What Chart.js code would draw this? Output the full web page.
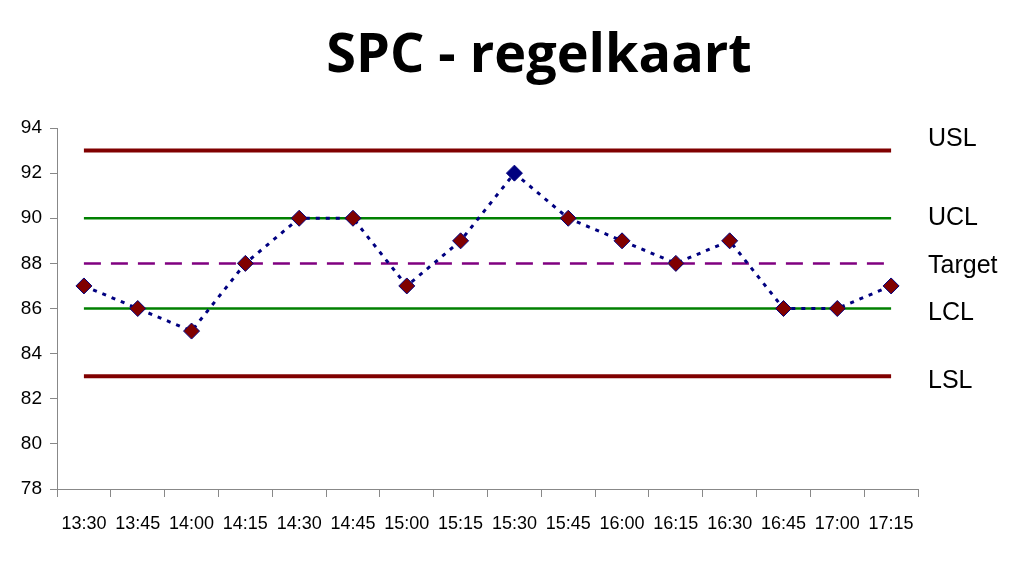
<!DOCTYPE html>
<html>
<head>
<meta charset="utf-8">
<script src="https://cdn.jsdelivr.net/npm/chart.js@4.4.0/dist/chart.umd.min.js"></script>
<style>
  html, body { margin: 0; padding: 0; background: #fff; }
  #wrap { width: 1024px; height: 566px; position: relative; }
</style>
</head>
<body>
<div id="wrap"><canvas id="myChart" width="1024" height="566"></canvas></div>
<script>
// Chart data
const times = ['13:30', '13:45', '14:00', '14:15', '14:30', '14:45', '15:00', '15:15',
               '15:30', '15:45', '16:00', '16:15', '16:30', '16:45', '17:00', '17:15'];
const measurements = [87, 86, 85, 88, 90, 90, 87, 89, 92, 90, 89, 88, 89, 86, 86, 87];
const limitNames = ['USL', 'UCL', 'Target', 'LCL', 'LSL'];
const limitValues = [93, 90, 88, 86, 83];
const yTicks = [78, 80, 82, 84, 86, 88, 90, 92, 94];

// Styling for the limit lines
const limitStyles = {
    USL: { color: '#800000', width: 4, dash: [] },
    UCL: { color: '#008000', width: 2.5, dash: [] },
    Target: { color: '#800080', width: 2.5, dash: [17, 10] },
    LCL: { color: '#008000', width: 2.5, dash: [] },
    LSL: { color: '#800000', width: 4, dash: [] }
};
// small vertical nudge of the right-hand labels (px)
const labelNudge = { USL: -11, UCL: 0, Target: 3, LCL: 5, LSL: 5 };

const limitDatasets = limitNames.map((name, i) => ({
    label: name,
    data: times.map(() => limitValues[i]),
    borderColor: limitStyles[name].color,
    borderWidth: limitStyles[name].width,
    borderDash: limitStyles[name].dash,
    pointRadius: 0,
    fill: false,
    order: 2
}));

// points above the upper control limit get a blue fill
const pointFill = measurements.map(v => v > limitValues[1] ? '#000080' : '#800000');

const FONT = '"Liberation Sans", Arial, sans-serif';

const extraText = {
    id: 'extraText',
    afterDatasetsDraw(chart) {
        const ctx = chart.ctx;
        const y = chart.scales.y;
        ctx.save();
        ctx.fillStyle = '#000';
        ctx.textBaseline = 'middle';
        ctx.font = '25px ' + FONT;
        limitNames.forEach((name, i) => {
            ctx.fillText(name, chart.chartArea.right + 10, y.getPixelForValue(limitValues[i]) + labelNudge[name]);
        });
        // title
        ctx.font = 'bold 54px "Open Sans", sans-serif';
        ctx.textAlign = 'center';
        ctx.textBaseline = 'alphabetic';
        ctx.fillText('SPC - regelkaart', 539, 72);
        ctx.restore();
    }
};

const ctx = document.getElementById('myChart').getContext('2d');
new Chart(ctx, {
    type: 'line',
    data: {
        labels: times,
        datasets: [{
            label: 'Meting',
            data: measurements,
            borderColor: '#000080',
            borderWidth: 3,
            borderDash: [4, 6],
            pointStyle: 'rectRot',
            pointRadius: 8,
            pointHoverRadius: 8,
            pointBackgroundColor: pointFill,
            pointBorderColor: '#000080',
            pointBorderWidth: 1,
            fill: false,
            order: 0
        }, ...limitDatasets]
    },
    options: {
        responsive: false,
        animation: false,
        layout: { padding: { left: 0, right: 106, top: 128, bottom: 0 } },
        plugins: {
            legend: { display: false },
            tooltip: { enabled: false },
            title: { display: false }
        },
        scales: {
            x: {
                offset: true,
                afterFit(axis) { axis.height = 77; },
                grid: { display: true, drawOnChartArea: false, offset: true, color: '#888', tickLength: 8 },
                border: { color: '#888' },
                ticks: {
                    color: '#000',
                    font: { family: FONT, size: 18 },
                    maxRotation: 0,
                    autoSkip: false,
                    padding: 16
                }
            },
            y: {
                min: 78,
                max: 94,
                afterFit(axis) { axis.width = 57; },
                afterBuildTicks(axis) { axis.ticks = yTicks.map(v => ({ value: v })); },
                grid: { display: true, drawOnChartArea: false, color: '#888', tickLength: 7 },
                border: { color: '#888' },
                ticks: {
                    color: '#000',
                    font: { family: FONT, size: 19 },
                    padding: 8
                }
            }
        }
    },
    plugins: [extraText]
});
</script>
</body>
</html>
